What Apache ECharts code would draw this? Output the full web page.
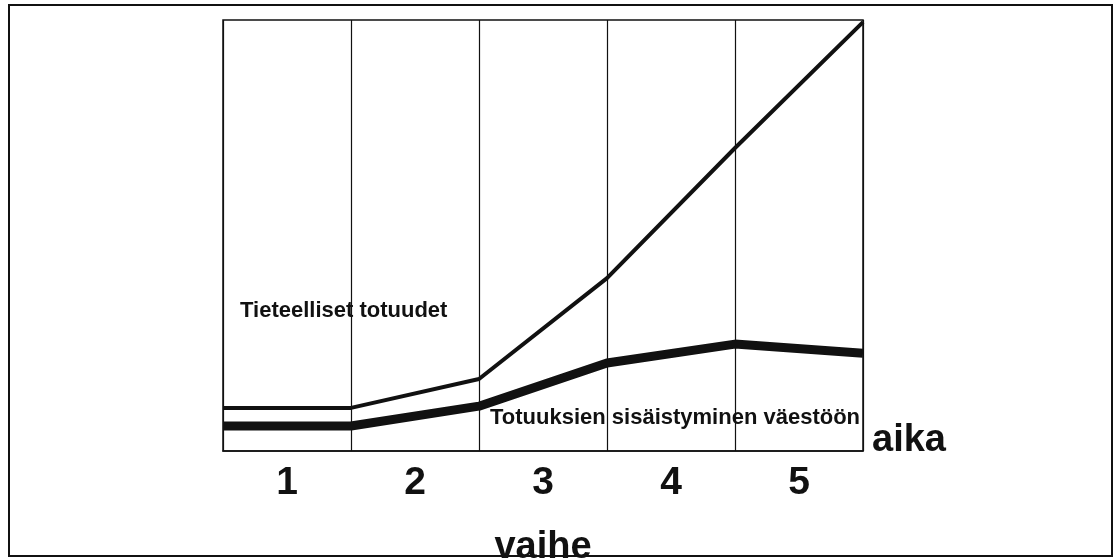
<!DOCTYPE html>
<html>
<head>
<meta charset="utf-8">
<script src="https://cdn.jsdelivr.net/npm/echarts@6/dist/echarts.min.js"></script>
<style>
  html, body { margin: 0; padding: 0; background: #fff; }
  #main { width: 1116px; height: 559px; }
</style>
</head>
<body>
<div id="main"></div>
<script>
// vaiheet (phases) and time positions
var phases = ["1", "2", "3", "4", "5"];
var timePoints = [0, 1, 2, 3, 4, 5];
// Tieteelliset totuudet (thin line)
var scienceValues = [10.0, 10.0, 16.7, 40.1, 70.3, 99.5];
// Totuuksien sisäistyminen väestöön (thick line)
var adoptionValues = [5.8, 5.8, 10.4, 20.4, 24.8, 22.7];

var font = "'Liberation Sans', Arial, sans-serif";

function pairs(xs, ys) {
  var out = [];
  for (var i = 0; i < xs.length; i++) out.push([xs[i], ys[i]]);
  return out;
}

var myChart = echarts.init(document.getElementById("main"));
var option = {
  backgroundColor: "#fff",
  animation: false,
  grid: {
    left: 223,
    right: 253,
    top: 20,
    bottom: 108,
    outerBoundsMode: "none",
    containLabel: false,
    show: true,
    borderColor: "#111",
    borderWidth: 1.5
  },
  xAxis: [
    {
      type: "value",
      min: 0,
      max: 5,
      interval: 1,
      axisLine: { show: true, lineStyle: { color: "#111", width: 1.5 } },
      axisTick: { show: false },
      axisLabel: { show: false },
      splitLine: { show: true, lineStyle: { color: "#111", width: 1.2 } },
      name: "aika",
      nameLocation: "end",
      nameGap: 9,
      nameTextStyle: {
        fontFamily: font,
        fontWeight: "bold",
        fontSize: 38,
        color: "#111",
        verticalAlign: "bottom",
        lineHeight: 20
      }
    },
    {
      type: "category",
      position: "bottom",
      data: phases,
      boundaryGap: true,
      axisLine: { show: false },
      axisTick: { show: false },
      splitLine: { show: false },
      axisLabel: {
        fontFamily: font,
        fontWeight: "bold",
        fontSize: 39,
        color: "#111",
        margin: 13
      },
      name: "vaihe",
      nameLocation: "middle",
      nameGap: 78,
      nameTextStyle: {
        fontFamily: font,
        fontWeight: "bold",
        fontSize: 38,
        color: "#111"
      }
    }
  ],
  yAxis: {
    type: "value",
    min: 0,
    max: 100,
    show: false
  },
  series: [
    {
      name: "Tieteelliset totuudet",
      type: "line",
      xAxisIndex: 0,
      data: pairs(timePoints, scienceValues),
      symbol: "none",
      lineStyle: { color: "#111", width: 4 }
    },
    {
      name: "Totuuksien sisäistyminen väestöön",
      type: "line",
      xAxisIndex: 0,
      data: pairs(timePoints, adoptionValues),
      symbol: "none",
      lineStyle: { color: "#111", width: 9 }
    }
  ],
  graphic: [
    {
      type: "rect",
      shape: { x: 9, y: 5, width: 1103, height: 551 },
      style: { fill: null, stroke: "#111", lineWidth: 2 },
      silent: true
    },
    {
      type: "text",
      left: 240,
      top: 300,
      style: {
        text: "Tieteelliset totuudet",
        font: "bold 22px " + font,
        fill: "#111"
      }
    },
    {
      type: "text",
      left: 490,
      top: 407,
      style: {
        text: "Totuuksien sisäistyminen väestöön",
        font: "bold 22px " + font,
        fill: "#111"
      }
    }
  ]
};
option && myChart.setOption(option);
</script>
</body>
</html>
